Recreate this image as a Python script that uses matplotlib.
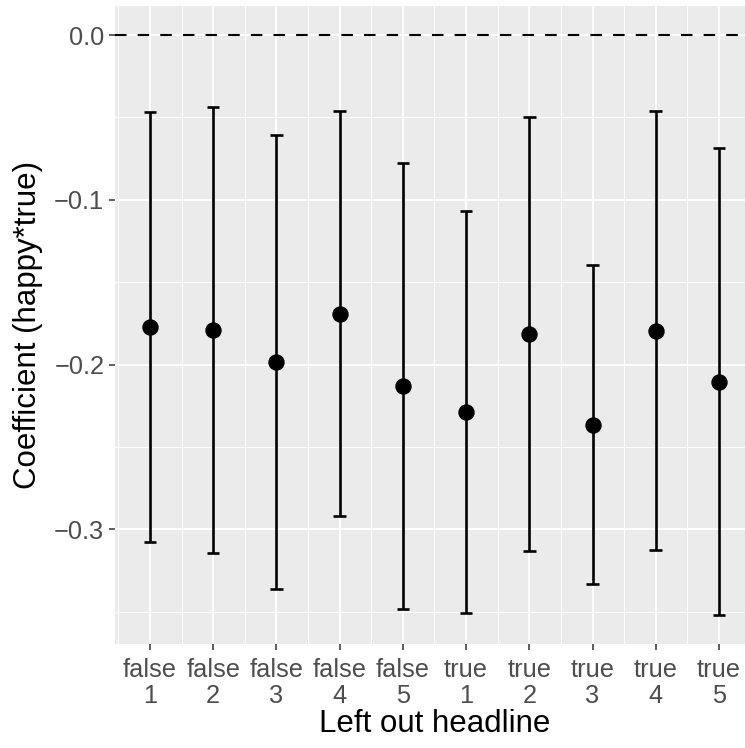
import numpy as np
import matplotlib
matplotlib.use("Agg")
import matplotlib.pyplot as plt
from matplotlib.ticker import FixedLocator

plt.rcParams['font.family'] = ['Liberation Sans', 'DejaVu Sans']
plt.rcParams['lines.scale_dashes'] = False

# ---- data ----
headline_true = ["false"] * 5 + ["true"] * 5
headline_num = ["1", "2", "3", "4", "5"] * 2
estimate = [-0.1774, -0.1788, -0.1984, -0.1691, -0.2129,
            -0.2287, -0.1814, -0.2365, -0.1794, -0.2103]
ci_upper = [-0.0469, -0.0434, -0.0606, -0.0461, -0.0774,
            -0.1067, -0.0495, -0.1398, -0.0463, -0.0685]
ci_lower = [-0.3078, -0.3141, -0.3361, -0.2919, -0.3485,
            -0.3505, -0.3131, -0.3333, -0.3127, -0.3521]
y_ticks = [-0.3, -0.2, -0.1, 0.0]

tick_labels = [f"{a}\n{b}" for a, b in zip(headline_true, headline_num)]
x = np.arange(1, len(estimate) + 1)

fig = plt.figure(figsize=(7.45, 7.48), dpi=100)
ax = fig.add_axes([114.5 / 745, 1 - 644.3 / 748, 639.9 / 745, 638.3 / 748])

# ggplot-like panel
ax.set_facecolor('#EBEBEB')
for s in ax.spines.values():
    s.set_visible(False)
ax.set_axisbelow(True)

ax.set_xlim(0.44, 10.56)
ax.set_ylim(-0.3697, 0.0176)

ax.xaxis.set_major_locator(FixedLocator(x))
ax.xaxis.set_minor_locator(FixedLocator(np.arange(0.5, 11, 1.0)))
ax.yaxis.set_major_locator(FixedLocator(y_ticks))
ax.yaxis.set_minor_locator(FixedLocator([-0.35, -0.25, -0.15, -0.05]))
ax.grid(which='major', color='white', linewidth=1.5)
ax.grid(which='minor', color='white', linewidth=0.75)

ax.set_xticklabels(tick_labels)
ax.set_yticklabels([f"{v:.1f}".replace("-", "\u2212") for v in y_ticks])
ax.tick_params(which='major', length=4.3, width=1.1, color='#333333',
               labelsize=18.3, labelcolor='#4D4D4D', pad=3)
ax.tick_params(axis='x', pad=5.5)
ax.tick_params(which='minor', length=0)
for lab in ax.get_xticklabels():
    lab.set_linespacing(1.12)

# reference line
ax.axhline(0, color='black', linewidth=1.5, dashes=(8.3, 8.0), zorder=2)

# error bars
ax.vlines(x, ci_lower, ci_upper, color='black', linewidth=1.9, zorder=3)
ax.hlines(ci_upper, x - 0.1, x + 0.1, color='black', linewidth=1.9, zorder=3)
ax.hlines(ci_lower, x - 0.1, x + 0.1, color='black', linewidth=1.9, zorder=3)
ax.plot(x, estimate, 'o', color='black', markersize=10.8, zorder=4)

ax.set_xlabel("Left out headline", fontsize=22.5, labelpad=0.5)
ax.set_ylabel("Coefficient (happy*true)", fontsize=22.5, labelpad=8)

fig.savefig("out.png", dpi=100)
